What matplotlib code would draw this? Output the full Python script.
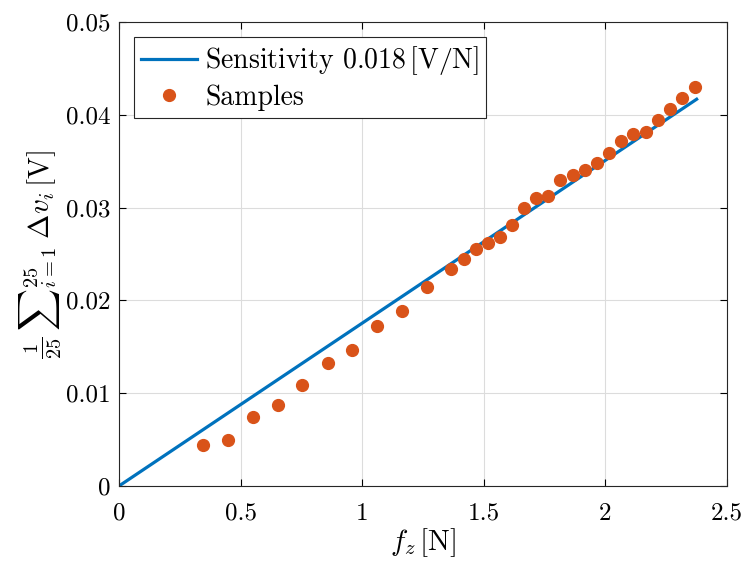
import matplotlib
matplotlib.use("Agg")
import matplotlib.pyplot as plt
import numpy as np

plt.rcParams['font.family'] = 'serif'
plt.rcParams['font.serif'] = ['cmr10']
plt.rcParams['mathtext.fontset'] = 'cm'
plt.rcParams['axes.formatter.use_mathtext'] = True

# samples
force = [0.345, 0.448, 0.551, 0.654, 0.752, 0.859, 0.958, 1.061, 1.164, 1.266,
         1.365, 1.419, 1.468, 1.517, 1.566, 1.616, 1.665, 1.715, 1.765, 1.815,
         1.865, 1.915, 1.965, 2.015, 2.065, 2.115, 2.165, 2.215, 2.265, 2.315, 2.37]
voltage = [0.0044, 0.0050, 0.0074, 0.0087, 0.0109, 0.0133, 0.0147, 0.0172, 0.0189, 0.0214,
           0.0234, 0.0245, 0.0255, 0.0262, 0.0268, 0.0281, 0.0300, 0.0310, 0.0312, 0.0330,
           0.0335, 0.0340, 0.0348, 0.0359, 0.0372, 0.0379, 0.0382, 0.0394, 0.0406, 0.0418, 0.0430]
slope = 0.01755
fit_x = [0.0, 2.375]

fig = plt.figure(figsize=(7.48, 5.66), dpi=100)
ax = fig.add_axes([0.159, 0.1413, 0.813, 0.8198])

ax.plot(fit_x, [slope * v for v in fit_x], color='#0072BD', lw=2.3,
        label=r'Sensitivity 0.018$\,[\mathrm{V/N}]$')
ax.plot(force, voltage, 'o', color='#D95319', ms=8.5, mec='#D95319',
        label='Samples')

ax.set_xlim(0, 2.5)
ax.set_ylim(0, 0.05)
ax.set_xticks(np.arange(0, 2.51, 0.5))
ax.set_yticks(np.arange(0, 0.051, 0.01))
ax.set_xticklabels(['0', '0.5', '1', '1.5', '2', '2.5'])
ax.set_yticklabels(['0', '0.01', '0.02', '0.03', '0.04', '0.05'])
ax.tick_params(direction='in', top=True, right=True, labelsize=18, length=5, width=0.8)
ax.tick_params(axis='x', pad=12)
ax.tick_params(axis='y', pad=6)
ax.grid(True, color='#dcdcdc', lw=0.8)
ax.set_axisbelow(True)
for s in ax.spines.values():
    s.set_linewidth(0.8)
    s.set_color('#262626')

ax.set_xlabel(r'$f_z\,[\mathrm{N}]$', fontsize=21, labelpad=1)
ax.set_ylabel(r'$\frac{1}{25}\,{\sum}_{i=1}^{25}\;\Delta v_i\,[\mathrm{V}]$', fontsize=21, labelpad=2)

leg = ax.legend(loc='upper left', fontsize=20, fancybox=False, framealpha=1,
                edgecolor='#262626', borderpad=0.25, handlelength=2.0, handletextpad=0.3,
                borderaxespad=0.55, labelspacing=0.25)
leg.get_frame().set_linewidth(0.8)

fig.savefig('out.png', dpi=100)
